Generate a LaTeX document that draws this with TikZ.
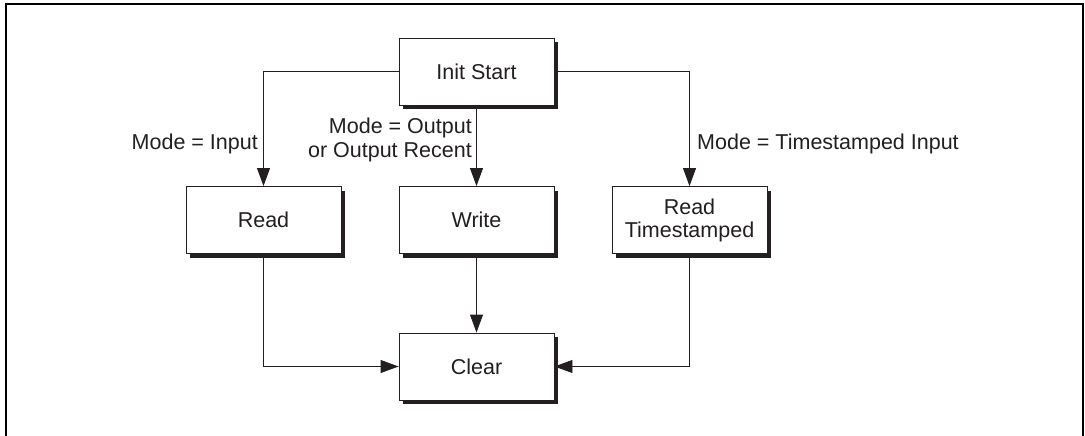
\documentclass[tikz,border=0pt]{standalone}
\usepackage{fontspec}
\setmainfont{Liberation Sans}
\usetikzlibrary{arrows.meta,shadows}
\definecolor{ink}{HTML}{231F20}
\begin{document}
\begin{tikzpicture}[x=1pt,y=-1pt,
  font=\fontsize{21.5}{24}\selectfont,
  state/.style={draw=ink, line width=0.9pt, fill=white, text=ink,
    minimum width=155pt, minimum height=67pt, align=center, inner sep=0pt,
    drop shadow={shadow xshift=4pt, shadow yshift=-4pt, fill=ink, opacity=1}},
  conn/.style={draw=ink, line width=0.9pt, -{Triangle[length=18pt,width=13pt]}},
  lbl/.style={text=ink, inner sep=0pt, align=right}]
\useasboundingbox (0,0) rectangle (1085,436);
\draw[line width=2pt] (6,437) -- (6,4) -- (1083,4) -- (1083,437);
\node[state] (init) at (476.5,71.5) {Init Start};
\node[state] (read) at (263.5,220) {Read};
\node[state] (write) at (476.5,220) {Write};
\node[state] (rts) at (689.5,220) {Read\\[-1pt]Timestamped};
\node[state] (clear) at (476.5,366.5) {Clear};
\draw[conn] (init.west) -| (read.north);
\draw[conn] (init.south) -- (write.north);
\draw[conn] (init.east) -| (rts.north);
\draw[conn] (read.south) |- (clear.west);
\draw[conn] (write.south) -- (clear.north);
\draw[conn] (rts.south) |- (clear.east);
\node[lbl, anchor=east] (l1) at (258,144) {Mode = Input};
\node[lbl, anchor=east] (l2) at (472,140) {Mode = Output\\or Output Recent};
\node[lbl, anchor=west] (l3) at (697,144) {Mode = Timestamped Input};
\end{tikzpicture}
\end{document}
